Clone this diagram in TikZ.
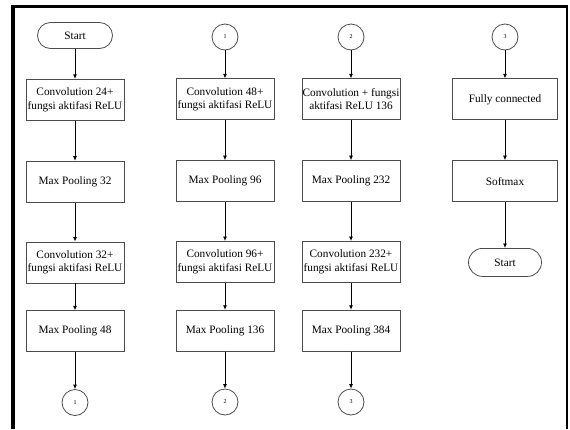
\documentclass[tikz,border=0pt]{standalone}
\usepackage{fontspec}
\setmainfont{Liberation Serif}
\usetikzlibrary{arrows.meta,positioning}

\begin{document}
\begin{tikzpicture}[x=1pt,y=1pt,line width=0.8pt,font=\fontsize{11.3}{13.5}\selectfont,
box/.style={draw=black!70,align=center,minimum height=41pt,minimum width=98pt,inner sep=0.5pt},
term/.style={draw=black!70,rounded corners=13pt,minimum height=26pt,minimum width=75pt},
conn/.style={draw=black!70,circle,minimum size=26pt,inner sep=0pt,font=\fontsize{6}{7}\selectfont},
>={Latex[length=4.5pt,width=4pt]}]
\useasboundingbox (0,0) rectangle (570,-429);
% frame
\draw[line width=4pt] (13,-429)--(13,-4.5);
\draw[line width=3.5pt] (11,-6.5)--(568,-6.5);
\draw[line width=1.3pt] (567,-5)--(567,-429);
% column 1
\node[term] (start) at (75,-35.5) {Start};
\node[box,below=30pt of start] (conv1) {Convolution 24+\\fungsi aktifasi ReLU};
\node[box,below=40pt of conv1] (pool1) {Max Pooling 32};
\node[box,below=39pt of pool1] (conv2) {Convolution 32+\\fungsi aktifasi ReLU};
\node[box,below=27pt of conv2] (pool2) {Max Pooling 48};
\node[conn,below=37pt of pool2] (out1) {1};
\draw[->] (start)--(conv1);\draw[->] (conv1)--(pool1);\draw[->] (pool1)--(conv2);\draw[->] (conv2)--(pool2);\draw[->] (pool2)--(out1);
% column 2
\node[conn] (in1) at (225,-37) {1};
\node[box,below=28pt of in1] (conv3) {Convolution 48+\\fungsi aktifasi ReLU};
\node[box,below=40pt of conv3] (pool3) {Max Pooling 96};
\node[box,below=39pt of pool3] (conv4) {Convolution 96+\\fungsi aktifasi ReLU};
\node[box,below=27pt of conv4] (pool4) {Max Pooling 136};
\node[conn,below=37pt of pool4] (out2) {2};
\draw[->] (in1)--(conv3);\draw[->] (conv3)--(pool3);\draw[->] (pool3)--(conv4);\draw[->] (conv4)--(pool4);\draw[->] (pool4)--(out2);
% column 3
\node[conn] (in2) at (351,-37) {2};
\node[box,below=28pt of in2] (conv5) {Convolution + fungsi\\aktifasi ReLU 136};
\node[box,below=40pt of conv5] (pool5) {Max Pooling 232};
\node[box,below=39pt of pool5] (conv6) {Convolution 232+\\fungsi aktifasi ReLU};
\node[box,below=27pt of conv6] (pool6) {Max Pooling 384};
\node[conn,below=37pt of pool6] (out3) {3};
\draw[->] (in2)--(conv5);\draw[->] (conv5)--(pool5);\draw[->] (pool5)--(conv6);\draw[->] (conv6)--(pool6);\draw[->] (pool6)--(out3);
% column 4
\node[conn] (in3) at (505,-37) {3};
\node[box,minimum width=105pt,below=28pt of in3] (fc) {Fully connected};
\node[box,minimum width=105pt,below=40pt of fc] (soft) {Softmax};
\node[term,minimum width=73pt,minimum height=28pt,rounded corners=14pt,below=46pt of soft] (stop) {Start};
\draw[->] (in3)--(fc);\draw[->] (fc)--(soft);\draw[->] (soft)--(stop);
\end{tikzpicture}
\end{document}
